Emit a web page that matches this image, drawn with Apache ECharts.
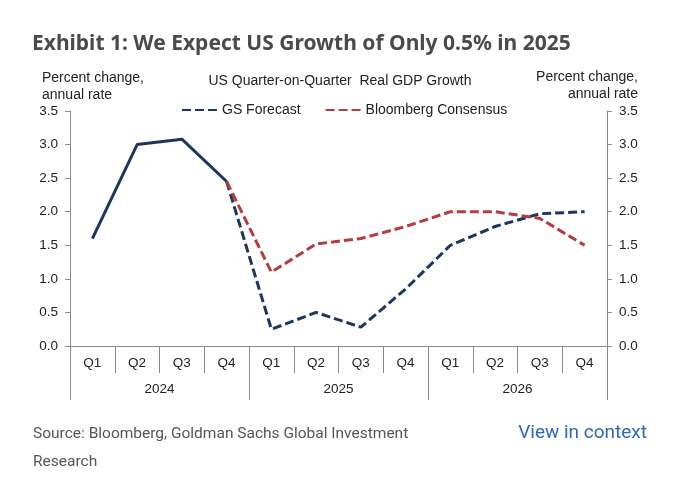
<!DOCTYPE html>
<html>
<head>
<meta charset="utf-8">
<script src="https://cdn.jsdelivr.net/npm/echarts@6/dist/echarts.min.js"></script>
<style>
html,body{margin:0;padding:0;background:#fff;}
#c{width:680px;height:485px;}
</style>
</head>
<body>
<div id="c"></div>
<script>
var quarters = ['Q1','Q2','Q3','Q4','Q1','Q2','Q3','Q4','Q1','Q2','Q3','Q4'];
var years = ['2024','2025','2026'];
var actual = [1.6, 3.0, 3.08, 2.45, null, null, null, null, null, null, null, null];
var gsForecast = [null, null, null, 2.45, 0.25, 0.5, 0.28, 0.85, 1.5, 1.78, 1.97, 2.0];
var bloomberg = [null, null, null, 2.45, 1.1, 1.52, 1.6, 1.78, 2.0, 2.0, 1.9, 1.5];
var yTicks = [0, 0.5, 1.0, 1.5, 2.0, 2.5, 3.0, 3.5];

var navy = '#1c3660';
var red = '#b83a3c';
var axisCol = '#8a8a8a';
var txt = '#222';
var chartFont = 'Liberation Sans';

var chart = echarts.init(document.getElementById('c'), null, {renderer: 'canvas'});
var yAxisBase = {
  type: 'value', min: yTicks[0], max: yTicks[yTicks.length - 1], interval: 0.5,
  axisLine: {show: true, lineStyle: {color: axisCol, width: 1}},
  axisTick: {show: true, inside: false, length: 5, lineStyle: {color: axisCol}},
  splitLine: {show: false},
  axisLabel: {color: txt, fontFamily: chartFont, fontSize: 13.5, margin: 12,
    formatter: function (v) { return v.toFixed(1); }}
};
chart.setOption({
  animation: false,
  backgroundColor: '#fff',
  grid: {left: 70, right: 73, top: 111, bottom: 139},
  title: [
    {text: 'Exhibit 1: We Expect US Growth of Only 0.5% in 2025', left: 27, top: 29,
      textStyle: {fontFamily: 'Noto Sans', fontWeight: 'bold', fontSize: 21, color: '#4a4a4a'}},
    {text: 'US Quarter-on-Quarter  Real GDP Growth', left: 'center', top: 69,
      textStyle: {fontFamily: chartFont, fontWeight: 'normal', fontSize: 14, color: txt}}
  ],
  legend: {
    data: [
      {name: 'GS Forecast', itemStyle: {opacity: 0}},
      {name: 'Bloomberg Consensus', itemStyle: {opacity: 0}}
    ],
    left: 176, top: 98, itemWidth: 35, itemHeight: 10, itemGap: 24,
    textStyle: {fontFamily: chartFont, fontSize: 14, color: txt}
  },
  graphic: [
    {type: 'text', left: 42, top: 70, style: {text: 'Percent change,\nannual rate', font: '14px "Liberation Sans"', fill: txt, lineHeight: 17}},
    {type: 'text', right: 42, top: 70, style: {text: 'Percent change,', font: '14px "Liberation Sans"', fill: txt}},
    {type: 'text', right: 42, top: 87, style: {text: 'annual rate', font: '14px "Liberation Sans"', fill: txt}},
    {type: 'text', left: 33, top: 420, style: {text: 'Source: Bloomberg, Goldman Sachs Global Investment\nResearch', font: '15.5px Roboto', fill: '#555', lineHeight: 28}},
    {type: 'text', right: 33, top: 424, style: {text: 'View in context', font: '19px Roboto', fill: '#2f66c0'}}
  ],
  xAxis: [
    {type: 'category', data: quarters, boundaryGap: true, position: 'bottom',
      axisLine: {show: true, lineStyle: {color: axisCol}},
      axisTick: {show: true, interval: 0, length: 27, lineStyle: {color: axisCol}},
      axisLabel: {interval: 0, color: txt, fontFamily: chartFont, fontSize: 13.5, margin: 10}},
    {type: 'category', data: years, boundaryGap: true, position: 'bottom',
      axisLine: {show: false},
      axisTick: {show: true, interval: 0, length: 54, lineStyle: {color: axisCol}},
      axisLabel: {interval: 0, color: txt, fontFamily: chartFont, fontSize: 13.5, margin: 36}}
  ],
  yAxis: [
    Object.assign({}, yAxisBase, {position: 'left'}),
    Object.assign({}, yAxisBase, {position: 'right'})
  ],
  series: [
    {name: 'Actual', type: 'line', data: actual, symbol: 'none', smooth: false,
      lineStyle: {color: navy, width: 3}, itemStyle: {color: navy}},
    {name: 'GS Forecast', type: 'line', data: gsForecast, symbol: 'none', smooth: false,
      lineStyle: {color: navy, width: 3, type: [9, 4]}, itemStyle: {color: navy}},
    {name: 'Bloomberg Consensus', type: 'line', data: bloomberg, symbol: 'none', smooth: false,
      lineStyle: {color: red, width: 3, type: [9, 4]}, itemStyle: {color: red}}
  ]
});
</script>
</body>
</html>
